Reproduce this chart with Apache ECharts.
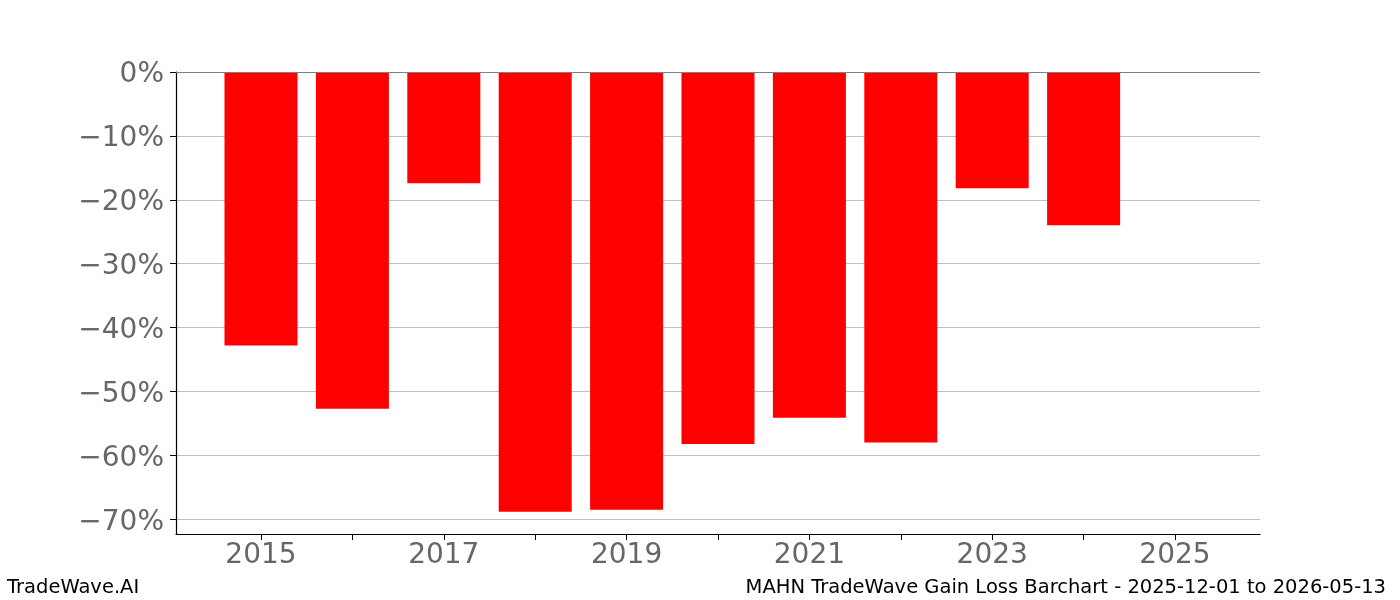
<!DOCTYPE html>
<html><head><meta charset="utf-8">
<script src="https://cdn.jsdelivr.net/npm/echarts@6/dist/echarts.min.js"></script>
<style>html,body{margin:0;padding:0;background:#fff}#c{width:1400px;height:600px}</style>
</head><body><div id="c"></div>
<script>
const years = [2015, 2016, 2017, 2018, 2019, 2020, 2021, 2022, 2023, 2024];
const gains = [-42.8, -52.7, -17.4, -68.8, -68.5, -58.2, -54.1, -58.0, -18.2, -24.0];
const yTicks = [0, -10, -20, -30, -40, -50, -60, -70];
const xTicks = [2015, 2016, 2017, 2018, 2019, 2020, 2021, 2022, 2023, 2024, 2025];
const xLabels = [2015, 2017, 2019, 2021, 2023, 2025];

const chart = echarts.init(document.getElementById('c'), null, {renderer: 'canvas'});
const font = 'DejaVu Sans';
chart.setOption({
  animation: false,
  grid: {left: 176, right: 140, top: 72, bottom: 66, containLabel: false},
  xAxis: {
    type: 'value', min: 2014.07, max: 2025.93,
    axisLine: {show: true, onZero: false, lineStyle: {color: '#000', width: 1.2}},
    axisTick: {show: true, length: 6, customValues: xTicks, lineStyle: {color: '#000'}},
    axisLabel: {customValues: xLabels, color: '#666', fontSize: 28, fontFamily: font, margin: 8,
      formatter: v => String(v)},
    splitLine: {show: false}
  },
  yAxis: {
    type: 'value', min: -72.3, max: 0,
    axisLine: {show: true, onZero: false, lineStyle: {color: '#000', width: 1.2}},
    axisTick: {show: true, length: 6, customValues: yTicks, lineStyle: {color: '#000'}},
    axisLabel: {customValues: yTicks, color: '#666', fontSize: 28, fontFamily: font, margin: 12,
      verticalAlign: 'top', lineHeight: 6,
      formatter: v => (v < 0 ? '\u2212' + Math.abs(v) : String(v)) + '%'},
    splitLine: {show: true, lineStyle: {color: '#c0c0c0', width: 1}}
  },
  series: [{
    type: 'bar',
    data: years.map((y, i) => [y, gains[i]]),
    barWidth: 73,
    itemStyle: {color: '#ff0000'},
    markLine: {
      silent: true, symbol: 'none', label: {show: false},
      lineStyle: {color: '#808080', width: 1, type: 'solid'},
      data: [{yAxis: 0}]
    }
  }],
  graphic: [
    {type: 'text', left: 7, top: 578, style: {text: 'TradeWave.AI', font: '19.5px "DejaVu Sans"', fill: '#000'}},
    {type: 'text', right: 14, top: 578, style: {text: 'MAHN TradeWave Gain Loss Barchart - 2025-12-01 to 2026-05-13', font: '19.5px "DejaVu Sans"', fill: '#000'}}
  ]
});
</script></body></html>
